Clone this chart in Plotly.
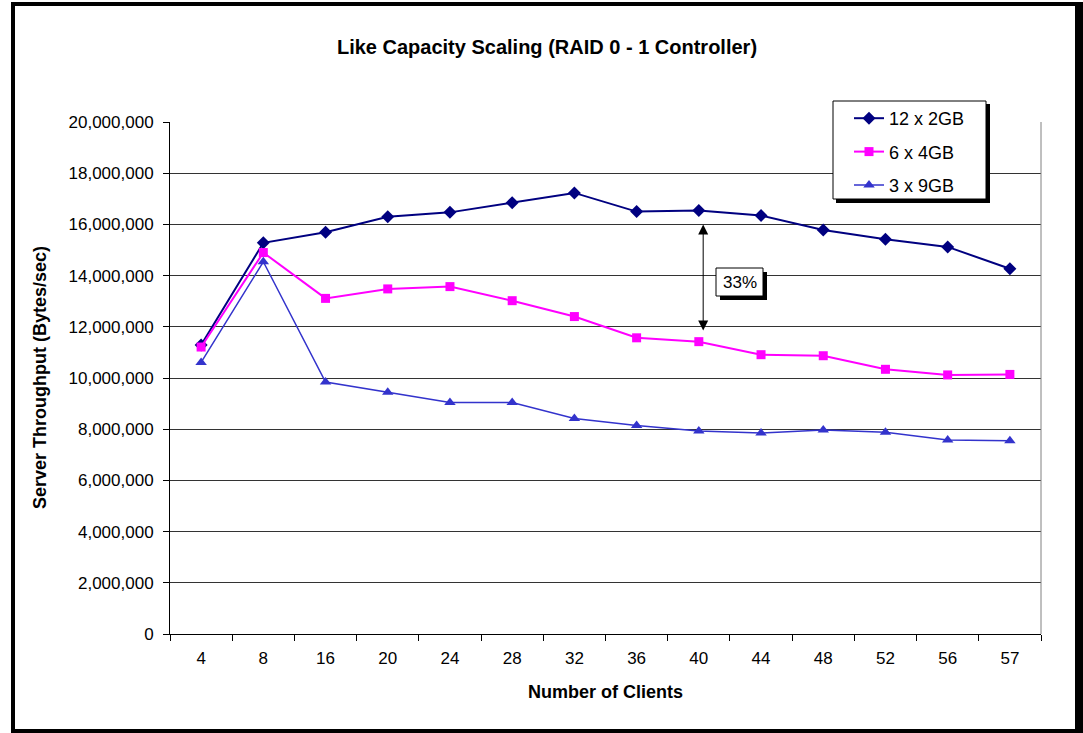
import plotly.graph_objects as go

# ---------------- data ----------------
clients = ['4', '8', '16', '20', '24', '28', '32', '36', '40', '44', '48', '52', '56', '57']
s_12x2 = [11290000, 15280000, 15690000, 16300000, 16470000, 16850000, 17230000,
          16500000, 16540000, 16350000, 15780000, 15420000, 15120000, 14270000]
s_6x4 = [11210000, 14900000, 13110000, 13480000, 13570000, 13020000, 12400000,
         11570000, 11420000, 10910000, 10870000, 10340000, 10120000, 10140000]
s_3x9 = [10610000, 14540000, 9840000, 9440000, 9040000, 9040000, 8420000,
         8140000, 7930000, 7850000, 7970000, 7880000, 7580000, 7550000]
series_names = ['12 x 2GB', '6 x 4GB', '3 x 9GB']
gap_label = '33%'

# ---------------- layout geometry ----------------
W, H = 1083, 733
L, R, T, B = 170, 42, 122, 99
PW, PH = W - L - R, H - T - B
FONT = 'Arial, Liberation Sans, sans-serif'


def px(x):
    return (x - L) / PW


def py(y):
    return (T + PH - y) / PH


fig = go.Figure()

styles = [
    dict(color='#000080', symbol='diamond', size=10, width=2),
    dict(color='#FF00FF', symbol='square', size=9, width=2),
    dict(color='#3333CC', symbol='triangle-up', size=10, width=1.5),
]
for name, vals, st in zip(series_names, [s_12x2, s_6x4, s_3x9], styles):
    fig.add_trace(go.Scatter(
        x=clients, y=vals, name=name, mode='lines+markers', legendgroup=name,
        line=dict(color=st['color'], width=st['width']),
        marker=dict(symbol=st['symbol'], size=st['size'], color=st['color']),
    ))

shapes = []
# outer frame
shapes.append(dict(type='rect', xref='paper', yref='paper', x0=px(13), x1=px(1079), y0=py(4), y1=py(731),
                   line=dict(color='black', width=4), fillcolor='rgba(0,0,0,0)', layer='above'))
shapes.append(dict(type='rect', xref='paper', yref='paper', x0=px(1075), x1=px(1083), y0=py(2), y1=py(733),
                   line=dict(width=0), fillcolor='black', layer='above'))
# right plot border
shapes.append(dict(type='line', xref='paper', yref='paper', x0=1, x1=1, y0=0, y1=1,
                   line=dict(color='#808080', width=1), layer='above'))
# legend box with shadow
shapes.append(dict(type='rect', xref='paper', yref='paper', x0=px(836), x1=px(990), y0=py(104), y1=py(203),
                   line=dict(width=0), fillcolor='black', layer='above'))
shapes.append(dict(type='rect', xref='paper', yref='paper', x0=px(833), x1=px(986), y0=py(101), y1=py(199),
                   line=dict(color='black', width=1), fillcolor='white', layer='above'))
# 33% box with shadow
shapes.append(dict(type='rect', xref='paper', yref='paper', x0=px(720), x1=px(767), y0=py(272), y1=py(300),
                   line=dict(width=0), fillcolor='black', layer='above'))
shapes.append(dict(type='rect', xref='paper', yref='paper', x0=px(716), x1=px(763), y0=py(268), y1=py(296),
                   line=dict(color='black', width=1), fillcolor='white', layer='above'))

annotations = [
    # double-headed arrow between the 12x2GB and 6x4GB series at 40 clients
    dict(x=8.07, y=16000000, ax=8.07, ay=11800000, xref='x', yref='y', axref='x', ayref='y',
         text='', showarrow=True, arrowhead=2, startarrowhead=2, arrowside='end+start',
         arrowsize=2, startarrowsize=2, arrowwidth=1, arrowcolor='black'),
    dict(x=px(739.5), y=py(282), xref='paper', yref='paper', text=gap_label, showarrow=False,
         font=dict(family=FONT, size=17, color='black'), xanchor='center', yanchor='middle'),
    dict(x=px(40), y=0.5, xref='paper', yref='paper', text='<b>Server Throughput (Bytes/sec)</b>',
         textangle=-90, showarrow=False, font=dict(family=FONT, size=18, color='black'),
         xanchor='center', yanchor='middle'),
    dict(x=0.5, y=py(692), xref='paper', yref='paper', text='<b>Number of Clients</b>',
         showarrow=False, font=dict(family=FONT, size=18, color='black'),
         xanchor='center', yanchor='middle'),
]

fig.update_layout(
    width=W, height=H,
    margin=dict(l=L, r=R, t=T, b=B),
    paper_bgcolor='white', plot_bgcolor='white',
    font=dict(family=FONT, size=17, color='black'),
    title=dict(text='<b>Like Capacity Scaling (RAID 0 - 1 Controller)</b>',
               x=547 / W, xref='container', xanchor='center',
               y=1 - 47 / H, yref='container', yanchor='middle',
               font=dict(family=FONT, size=20, color='black')),
    showlegend=True,
    legend=dict(x=px(849), y=py(100), xanchor='left', yanchor='top',
                bgcolor='rgba(0,0,0,0)', borderwidth=0, traceorder='grouped',
                tracegroupgap=7, font=dict(family=FONT, size=18, color='black')),
    shapes=shapes,
    annotations=annotations,
)

fig.update_xaxes(type='category', range=[-0.5, len(clients) - 0.5],
                 showline=True, linecolor='black', linewidth=1,
                 ticks='outside', tickson='boundaries', ticklen=6, tickcolor='black',
                 showgrid=False, ticklabelstandoff=9,
                 tickfont=dict(family=FONT, size=17, color='black'))
fig.update_yaxes(range=[0, 20000000], dtick=2000000, tickformat=',d',
                 showline=True, linecolor='black', linewidth=1,
                 ticks='outside', ticklen=6, tickcolor='black',
                 showgrid=True, gridcolor='#333333', gridwidth=1, zeroline=False,
                 ticklabelstandoff=6,
                 tickfont=dict(family=FONT, size=17, color='black'))

fig.write_html('out.html')
